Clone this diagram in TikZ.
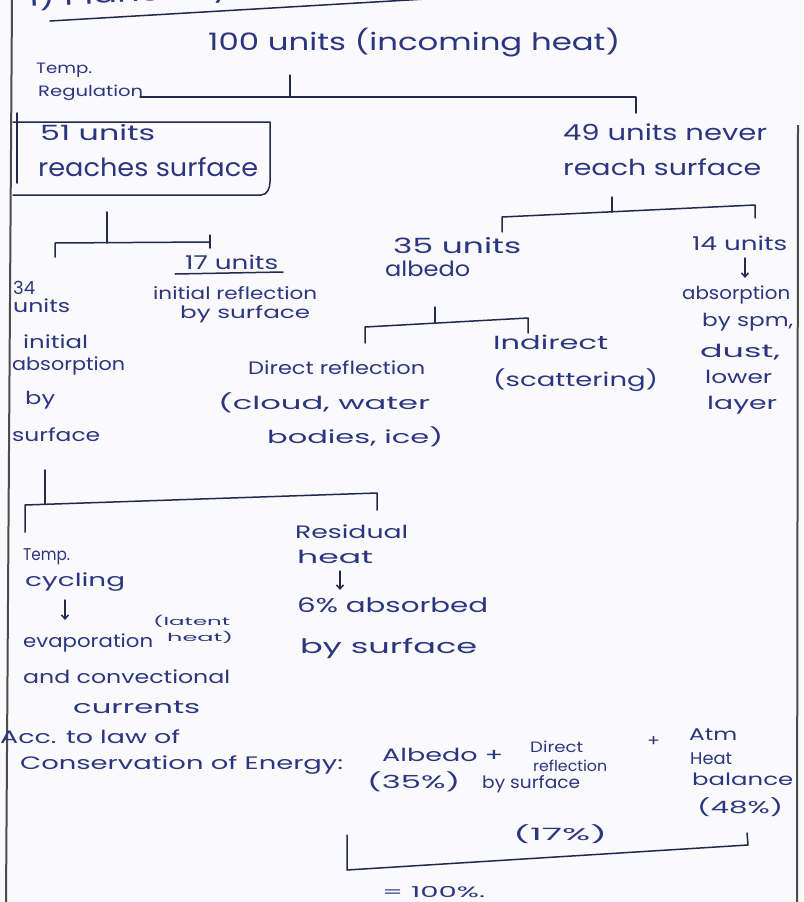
\documentclass[tikz,border=0pt]{standalone}
\usepackage{fontspec}
\setmainfont{Poppins}
\usepackage{graphicx}
\usetikzlibrary{arrows.meta}
\definecolor{ink}{RGB}{44,54,128}
\definecolor{penc}{RGB}{36,40,78}
\definecolor{paper}{RGB}{250,250,252}
% handwritten-looking line of text: font size, exact width, text
\newcommand{\hwt}[3]{\resizebox{#2pt}{\height}{\fontsize{#1}{#1}\selectfont #3}}

\begin{document}
\begin{tikzpicture}[x=1pt,y=-1pt,
  hw/.style={anchor=west,inner sep=0pt,text=ink},
  penline/.style={draw=penc,line width=1.5pt,line cap=round,line join=round},
  sheetedge/.style={draw=black!70,line width=2pt},
  downarrow/.style={penline,-{Straight Barb[length=4pt,width=7pt]}}]

\useasboundingbox (0,0) rectangle (803,902);
\fill[paper] (0,0) rectangle (803,902);
\clip (0,0) rectangle (803,902);

% page edges
\draw[sheetedge] (12,0) -- (6,902);
\draw[sheetedge] (798,125) -- (797,902);

% heading, mostly cut off at the top of the sheet
\node[anchor=base west,inner sep=0pt,text=ink,rotate=3] (title) at (28,7) {\hwt{24}{430}{1) Planetary Heat Budget}};
\coordinate (ulA) at (50,21);
\coordinate (ulB) at (460,-3);
\draw[penline] (ulA) -- (ulB);

% root
\node[hw] (incoming) at (208,43) {\hwt{24}{412}{100 units (incoming heat)}};
\node[hw] (tempA) at (36,70) {\hwt{15}{56}{Temp.}};
\node[hw] (tempB) at (38,93) {\hwt{15}{105}{Regulation}};
\coordinate (r0) at (290,75);
\coordinate (rbar) at (290,97);
\coordinate (rL) at (140,97);
\coordinate (rR) at (636,97);
\coordinate (rRd) at (636,113);
\draw[penline] (r0) -- (rbar);
\draw[penline] (rL) -- (rR) -- (rRd);

% 51 units, boxed
\node[hw] (s51a) at (40,133) {\hwt{21}{115}{51 units}};
\node[hw] (s51b) at (38,167) {\hwt{25}{220}{reaches surface}};
\draw[penline] (17,113) -- (17,183);
\draw[penline] (13,122) -- (270,122) -- (270,182) to[out=-90,in=0] (261,195) -- (13,195);

% 49 units
\node[hw] (n49a) at (563,132) {\hwt{22}{204}{49 units never}};
\node[hw] (n49b) at (563,167) {\hwt{22}{198}{reach surface}};

% bracket under 51 units
\coordinate (a0) at (107,212);
\coordinate (abar) at (107,243);
\coordinate (aL) at (55,243);
\coordinate (aLd) at (55,257);
\coordinate (aR) at (210,242);
\draw[penline] (a0) -- (abar);
\draw[penline] (aLd) -- (aL) -- (aR);
\draw[penline] (210,235) -- (210,248);

% 17 units
\node[hw] (n17) at (185,262) {\hwt{19}{93}{17 units}};
\draw[penline] (175,274) -- (283,272);
\node[hw] (n17b) at (153,293) {\hwt{17}{164}{initial reflection}};
\node[hw] (n17c) at (180,314) {\hwt{17}{130}{by surface}};

% 34 units
\node[hw] (n34a) at (13,288) {\hwt{18}{22}{34}};
\node[hw] (n34b) at (13,306) {\hwt{18}{57}{units}};
\node[hw] (n34c) at (23,342) {\hwt{18}{65}{initial}};
\node[hw] (n34d) at (12,366) {\hwt{18}{113}{absorption}};
\node[hw] (n34e) at (25,400) {\hwt{18}{30}{by}};
\node[hw] (n34f) at (12,435) {\hwt{18}{88}{surface}};

% bracket under 49 units
\coordinate (b0) at (612,197);
\coordinate (bbar) at (612,212);
\coordinate (bL) at (502,217);
\coordinate (bLd) at (502,232);
\coordinate (bR) at (755,205);
\coordinate (bRd) at (755,218);
\draw[penline] (b0) -- (bbar);
\draw[penline] (bLd) -- (bL) -- (bR) -- (bRd);

% 35 units albedo
\node[hw] (n35a) at (393,246) {\hwt{21}{128}{35 units}};
\node[hw] (n35b) at (385,269) {\hwt{21}{85}{albedo}};

% 14 units
\node[hw] (n14a) at (692,243) {\hwt{19}{95}{14 units}};
\node[hw] (n14b) at (682,295) {\hwt{18}{108}{absorption}};
\node[hw] (n14c) at (702,322) {\hwt{18}{91}{by spm,}};
\node[hw] (n14d) at (700,352) {\hwt{18}{80}{dust,}};
\node[hw] (n14e) at (705,377) {\hwt{18}{67}{lower}};
\node[hw] (n14f) at (707,405) {\hwt{18}{70}{layer}};
\coordinate (g0) at (745,258);
\coordinate (g1) at (745,278);
\draw[downarrow] (g0) -- (g1);

% bracket under albedo
\coordinate (c0) at (435,307);
\coordinate (cbar) at (435,323);
\coordinate (cL) at (365,327);
\coordinate (cLd) at (365,343);
\coordinate (cR) at (528,318);
\coordinate (cRd) at (528,333);
\draw[penline] (c0) -- (cbar);
\draw[penline] (cLd) -- (cL) -- (cR) -- (cRd);

\node[hw] (dirA) at (248,368) {\hwt{18}{177}{Direct reflection}};
\node[hw] (dirB) at (218,403) {\hwt{18}{212}{(cloud, water}};
\node[hw] (dirC) at (267,437) {\hwt{18}{176}{bodies, ice)}};
\node[hw] (indA) at (493,342) {\hwt{19}{115}{Indirect}};
\node[hw] (indB) at (493,380) {\hwt{19}{165}{(scattering)}};

% bracket under 34 units
\coordinate (d0) at (45,470);
\coordinate (dbar) at (45,504);
\coordinate (dL) at (25,505);
\coordinate (dLd) at (25,532);
\coordinate (dR) at (377,493);
\coordinate (dRd) at (377,510);
\draw[penline] (d0) -- (dbar);
\draw[penline] (dLd) -- (dL) -- (dR) -- (dRd);

% temperature cycling branch
\node[hw] (cycA) at (23,557) {\hwt{17}{47}{Temp.}};
\node[hw] (cycB) at (25,582) {\hwt{18}{100}{cycling}};
\node[hw] (cycC) at (23,643) {\hwt{18}{130}{evaporation}};
\node[hw] (latA) at (153,621) {\hwt{11}{77}{(latent}};
\node[hw] (latB) at (167,637) {\hwt{11}{66}{heat)}};
\node[hw] (cycD) at (23,677) {\hwt{18}{207}{and convectional}};
\node[hw] (cycE) at (73,707) {\hwt{18}{127}{currents}};
\coordinate (h0) at (65,600);
\coordinate (h1) at (65,620);
\draw[downarrow] (h0) -- (h1);

% residual heat branch
\node[hw] (resA) at (295,532) {\hwt{18}{113}{Residual}};
\node[hw] (resB) at (297,557) {\hwt{18}{76}{heat}};
\node[hw] (resC) at (297,605) {\hwt{20}{191}{6\% absorbed}};
\node[hw] (resD) at (300,648) {\hwt{20}{177}{by surface}};
\coordinate (k0) at (340,571);
\coordinate (k1) at (340,590);
\draw[downarrow] (k0) -- (k1);

% energy balance
\node[hw] (lawA) at (0,737) {\hwt{18}{180}{Acc. to law of}};
\node[hw] (lawB) at (20,765) {\hwt{18}{323}{Conservation of Energy:}};
\node[hw] (alb) at (382,755) {\hwt{18}{121}{Albedo +}};
\node[hw] (dirr) at (530,747) {\hwt{15}{53}{Direct}};
\node[hw] (plus) at (647,742) {\hwt{16}{13}{+}};
\node[hw] (atmA) at (689,735) {\hwt{17}{48}{Atm}};
\node[hw] (atmB) at (690,759) {\hwt{17}{42}{Heat}};
\node[hw] (dirrB) at (533,766) {\hwt{15}{74}{reflection}};
\node[hw] (albP) at (367,782) {\hwt{18}{93}{(35\%)}};
\node[hw] (dirrC) at (482,784) {\hwt{17}{98}{by surface}};
\node[hw] (atmC) at (692,779) {\hwt{17}{101}{balance}};
\node[hw] (atmP) at (697,807) {\hwt{17}{86}{(48\%)}};
\node[hw] (dirP) at (513,834) {\hwt{17}{94}{(17\%)}};
\coordinate (eL) at (347,835);
\coordinate (eLb) at (347,870);
\coordinate (eRb) at (748,845);
\coordinate (eR) at (747,833);
\draw[penline] (eL) -- (eLb) -- (eRb) -- (eR);
\node[hw] (total) at (382,892) {\hwt{15}{103}{= 100\%.}};
\end{tikzpicture}
\end{document}
